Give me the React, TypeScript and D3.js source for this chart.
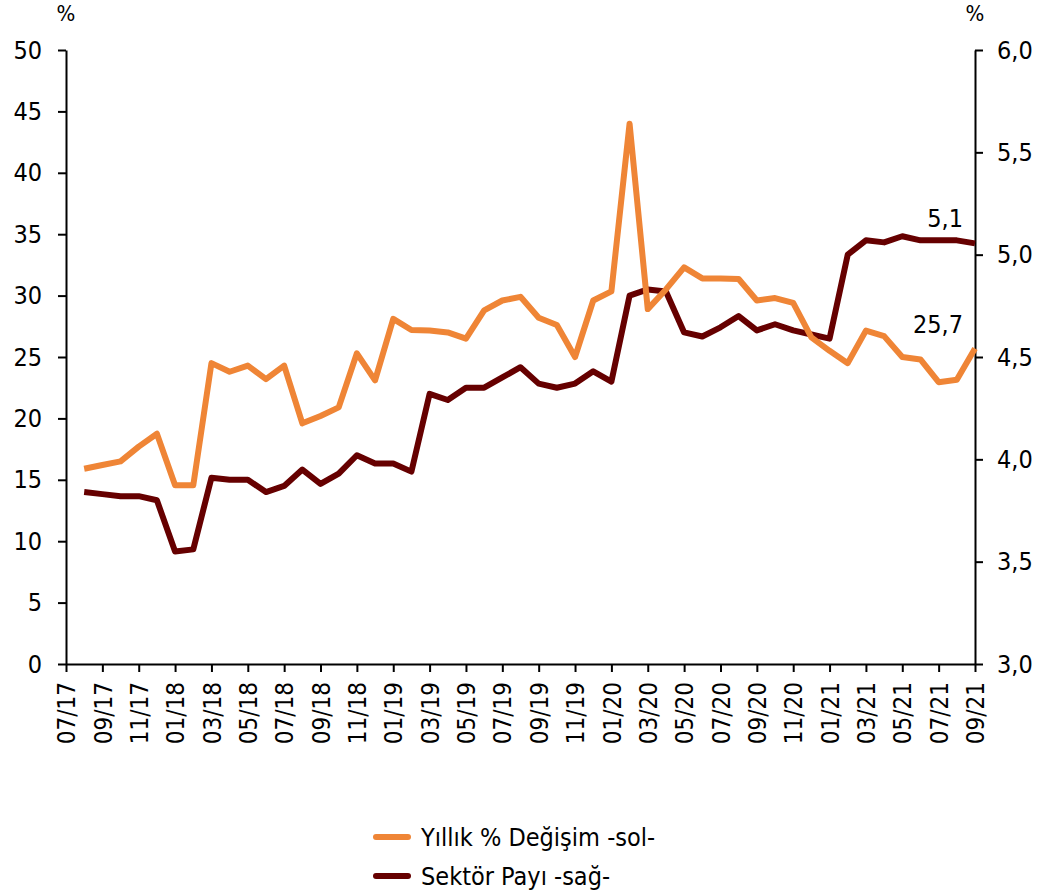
import * as d3 from 'd3';
import React, {useEffect, useRef} from 'react';

// month index 0 = 07/17, data runs 08/17 .. 09/21
const startYear = 2017;
const startMonth = 7;

const yillikDegisim = [
  15.9, 16.2, 16.5, 17.7, 18.75, 14.55, 14.55, 24.5, 23.8, 24.3,
  23.2, 24.3, 19.6, 20.2, 20.9, 25.3, 23.1, 28.1, 27.2, 27.15,
  27.0, 26.5, 28.8, 29.6, 29.9, 28.2, 27.6, 25.0, 29.6, 30.35,
  44.0, 28.9, 30.5, 32.3, 31.4, 31.4, 31.35, 29.6, 29.8, 29.4,
  26.6, 25.5, 24.5, 27.15, 26.7, 25.0, 24.8, 22.95, 23.15, 25.7,
];

const sektorPayi = [
  3.84, 3.83, 3.82, 3.82, 3.80, 3.55, 3.56, 3.91, 3.90, 3.90,
  3.84, 3.87, 3.95, 3.88, 3.93, 4.02, 3.98, 3.98, 3.94, 4.32,
  4.29, 4.35, 4.35, 4.40, 4.45, 4.37, 4.35, 4.37, 4.43, 4.38,
  4.80, 4.83, 4.82, 4.62, 4.60, 4.645, 4.70, 4.63, 4.66, 4.63,
  4.61, 4.59, 5.00, 5.07, 5.06, 5.09, 5.07, 5.07, 5.07, 5.055,
];

const leftTicks = [0, 5, 10, 15, 20, 25, 30, 35, 40, 45, 50];
const rightTicks = [3.0, 3.5, 4.0, 4.5, 5.0, 5.5, 6.0];

const seriesNames = ['Yıllık % Değişim -sol-', 'Sektör Payı -sağ-'];
const seriesColors = ['#EF8536', '#660000'];

const lastLabels = ['25,7', '5,1'];

const monthLabel = (i: number) => {
  const m = ((startMonth - 1 + i) % 12) + 1;
  const y = startYear + Math.floor((startMonth - 1 + i) / 12);
  return `${String(m).padStart(2, '0')}/${String(y % 100).padStart(2, '0')}`;
};

const App = () => {
  const svgRef = useRef<SVGSVGElement>(null);

  useEffect(() => {
    const svg = d3.select(svgRef.current);
    svg.selectAll('*').remove();

    const font = '"DejaVu Sans Condensed", "DejaVu Sans", sans-serif';
    const left = 66, right = 975, top = 50, bottom = 664;
    const nMonths = yillikDegisim.length; // 50

    const x = d3.scaleLinear().domain([0, nMonths]).range([left, right]);
    const yL = d3.scaleLinear().domain([0, 50]).range([bottom, top]);
    const yR = d3.scaleLinear().domain([3, 6]).range([bottom, top]);

    // axes
    const gL = svg.append('g').attr('transform', `translate(${left},0)`)
      .call(d3.axisLeft(yL).tickValues(leftTicks).tickSize(8).tickSizeOuter(0).tickPadding(16));
    const gR = svg.append('g').attr('transform', `translate(${right},0)`)
      .call(d3.axisRight(yR).tickValues(rightTicks).tickSize(8).tickSizeOuter(0).tickPadding(14)
        .tickFormat(d => d3.format('.1f')(d as number).replace('.', ',')));
    const xTicks = d3.range(0, nMonths + 1, 2);
    const gX = svg.append('g').attr('transform', `translate(0,${bottom})`)
      .call(d3.axisBottom(x).tickValues(xTicks).tickSize(8).tickSizeOuter(0)
        .tickFormat(d => monthLabel(d as number)));

    [gL, gR, gX].forEach(g => {
      g.select('.domain').attr('stroke', '#000').attr('stroke-width', 2);
      g.selectAll('.tick line').attr('stroke', '#000').attr('stroke-width', 2);
      g.selectAll('text').attr('font-family', font).attr('font-size', 25).attr('fill', '#000');
    });
    gX.selectAll('.tick text')
      .attr('font-size', 24)
      .attr('transform', 'rotate(-90)')
      .attr('text-anchor', 'end')
      .attr('x', -18)
      .attr('y', 0)
      .attr('dy', '0.36em');

    // % unit labels
    svg.append('text').attr('x', left).attr('y', 21).attr('text-anchor', 'middle')
      .attr('font-family', font).attr('font-size', 22).text('%');
    svg.append('text').attr('x', right).attr('y', 21).attr('text-anchor', 'middle')
      .attr('font-family', font).attr('font-size', 22).text('%');

    // lines
    const lineL = d3.line<number>().x((_, i) => x(i + 1)).y(d => yL(d));
    const lineR = d3.line<number>().x((_, i) => x(i + 1)).y(d => yR(d));

    svg.append('path').datum(sektorPayi).attr('d', lineR)
      .attr('fill', 'none').attr('stroke', seriesColors[1]).attr('stroke-width', 6)
      .attr('stroke-linejoin', 'round');
    svg.append('path').datum(yillikDegisim).attr('d', lineL)
      .attr('fill', 'none').attr('stroke', seriesColors[0]).attr('stroke-width', 6)
      .attr('stroke-linejoin', 'round');

    // end labels
    svg.append('text').attr('x', 963).attr('y', yL(yillikDegisim[nMonths - 1]) - 15)
      .attr('text-anchor', 'end').attr('font-family', font).attr('font-size', 25)
      .text(lastLabels[0]);
    svg.append('text').attr('x', 963).attr('y', yR(sektorPayi[nMonths - 1]) - 16)
      .attr('text-anchor', 'end').attr('font-family', font).attr('font-size', 25)
      .text(lastLabels[1]);

    // legend
    const legend = svg.append('g');
    seriesNames.forEach((name, i) => {
      const ly = 837 + i * 39;
      legend.append('line').attr('x1', 376).attr('x2', 408).attr('y1', ly).attr('y2', ly)
        .attr('stroke', seriesColors[i]).attr('stroke-width', 6).attr('stroke-linecap', 'round');
      legend.append('text').attr('x', 421).attr('y', ly).attr('dy', '0.35em')
        .attr('font-family', font).attr('font-size', 25).text(name);
    });
  }, []);

  return (
    <svg ref={svgRef} width={1038} height={892}
      style={{position: 'absolute', left: 0, top: 0, background: '#fff'}} />
  );
};

export default App;
